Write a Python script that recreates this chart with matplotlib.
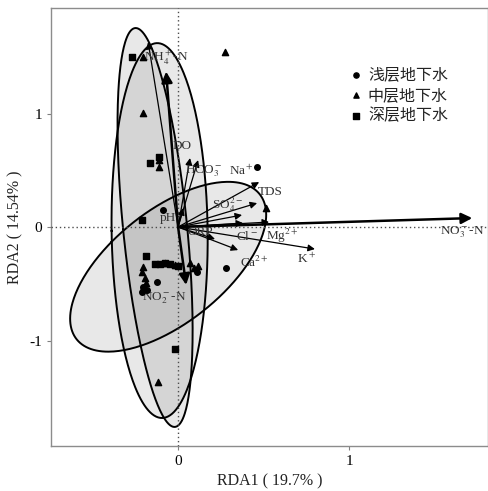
import numpy as np
import matplotlib
matplotlib.use("Agg")
import matplotlib.pyplot as plt

plt.rcParams['font.family'] = ['Liberation Serif', 'DejaVu Serif']
plt.rcParams['mathtext.fontset'] = 'stix'
plt.rcParams['axes.unicode_minus'] = False

# sample scores (RDA1, RDA2) per group
shallow_x = [0.462, 0.281, -0.088, -0.123, -0.211, -0.181, 0.111, -0.205]
shallow_y = [0.529, -0.361, 0.150, -0.485, -0.573, -0.555, -0.396, -0.530]

middle_x = [0.275, -0.205, -0.205, -0.111, -0.111, 0.515, -0.205, -0.211, -0.193,
            -0.187, -0.205, 0.070, 0.094, 0.117, -0.117, -0.076, -0.018]
middle_y = [1.542, 1.498, 1.004, 0.590, 0.529, 0.167, -0.352, -0.396, -0.449,
            -0.493, -0.537, -0.317, -0.361, -0.344, -1.366, -0.317, -0.335]

deep_x = [-0.269, -0.164, -0.111, -0.211, -0.187, -0.135, -0.105, -0.076, -0.047, 0.0, -0.018]
deep_y = [1.498, 0.564, 0.617, 0.062, -0.256, -0.326, -0.326, -0.320, -0.326, -0.344, -1.075]

group_names = ['浅层地下水', '中层地下水', '深层地下水']

# group ellipses: center and shape matrix [sxx, syy, sxy]
ell_centers = [(-0.1345, -0.004), (-0.108, -0.031), (-0.058, -0.35)]
ell_shapes = [(0.0482, 3.0903, -0.1994), (0.0790, 2.729, -0.0226), (0.3285, 0.5601, 0.2623)]

# environmental factor arrows
env_names = [r'NH$_4^+$-N', '', 'DO', r'HCO$_3^-$', r'Na$^+$', 'TDS', r'SO$_4^{2-}$', 'pH',
             'ORP', r'Cl$^-$', r'Mg$^{2+}$', r'Ca$^{2+}$', r'K$^+$', r'NO$_3^-$-N', r'NO$_2^-$-N']
env_x = [-0.175, -0.07, 0.070, 0.117, 0.474, 0.462, 0.374, 0.029,
         0.216, 0.380, 0.532, 0.351, 0.80, 1.72, 0.047]
env_y = [1.63, 1.37, 0.608, 0.590, 0.396, 0.211, 0.106, 0.167,
         -0.106, 0.035, 0.044, -0.203, -0.194, 0.079, -0.51]
env_bold = [False, True, False, False, False, False, False, False,
            False, False, False, False, False, True, True]

# label anchors
lab_pos = [(-0.070, 1.49), None, (0.023, 0.714), (0.150, 0.493), (0.370, 0.493),
           (0.538, 0.308), (0.287, 0.194), (-0.058, 0.079), (0.129, -0.044),
           (0.404, -0.079), (0.608, -0.079), (0.444, -0.308), (0.749, -0.282),
           (1.661, -0.044), (-0.082, -0.626)]

fig = plt.figure(figsize=(4.89, 4.91), dpi=100)
ax = fig.add_axes([0.1043, 0.0916, 0.894, 0.892])

t = np.linspace(0, 2 * np.pi, 300)
for (cx, cy), (sxx, syy, sxy) in zip(ell_centers, ell_shapes):
    S = np.array([[sxx, sxy], [sxy, syy]])
    vals, vecs = np.linalg.eigh(S)
    L = vecs @ np.diag(np.sqrt(vals))
    pts = L @ np.vstack([np.cos(t), np.sin(t)])
    ax.fill(cx + pts[0], cy + pts[1], facecolor='0.5', alpha=0.18, edgecolor='none', zorder=1)
    ax.plot(cx + pts[0], cy + pts[1], color='black', lw=1.4, zorder=2)

ax.axhline(0, color='0.3', lw=1.0, ls=(0, (1, 2)), zorder=3)
ax.axvline(0, color='0.3', lw=1.0, ls=(0, (1, 2)), zorder=3)

for name, x, y, bold, lp in zip(env_names, env_x, env_y, env_bold, lab_pos):
    lw = 1.8 if bold else 0.9
    ms = 16 if bold else 10
    ax.annotate('', xy=(x, y), xytext=(0, 0),
                arrowprops=dict(arrowstyle='-|>', color='black', lw=lw,
                                mutation_scale=ms, shrinkA=0, shrinkB=0),
                zorder=4)
    if lp is not None and name:
        ax.text(lp[0], lp[1], name, fontsize=9.5, color='#333333',
                ha='center', va='center', zorder=5)

ax.scatter(shallow_x, shallow_y, marker='o', s=16, color='black', zorder=6)
ax.scatter(middle_x, middle_y, marker='^', s=20, color='black', zorder=6)
ax.scatter(deep_x, deep_y, marker='s', s=16, color='black', zorder=6)

# legend
for i, (name, mk) in enumerate(zip(group_names, ['o', '^', 's'])):
    ly = 1.34 - i * 0.18
    ax.scatter([1.04], [ly], marker=mk, s=14, color='black')
    ax.text(1.11, ly, name, fontsize=11.5, va='center', ha='left', color='#222222',
            family=['Noto Sans CJK SC', 'DejaVu Sans'])

ax.set_xlim(-0.743, 1.813)
ax.set_ylim(-1.93, 1.93)
ax.set_xticks([0, 1])
ax.set_yticks([-1, 0, 1])
ax.tick_params(labelsize=11, color='0.5', length=3)
for sp in ax.spines.values():
    sp.set_color('0.55')
    sp.set_linewidth(1.0)

ax.set_xlabel('RDA1 ( 19.7% )', fontsize=11.5, color='#222222')
ax.set_ylabel('RDA2 ( 14.54% )', fontsize=11.5, color='#222222')

fig.savefig('out.png', dpi=100)
